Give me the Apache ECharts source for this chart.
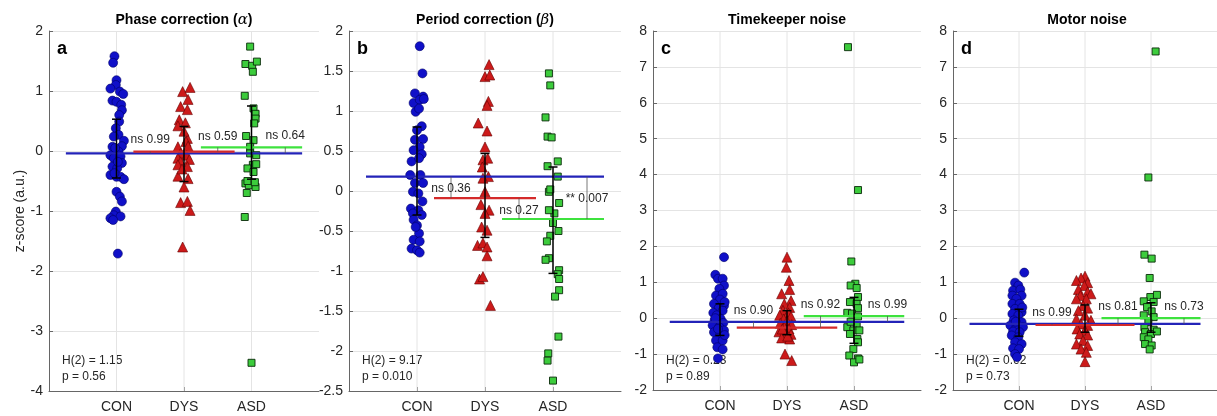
<!DOCTYPE html>
<html>
<head>
<meta charset="utf-8">
<script src="https://cdn.jsdelivr.net/npm/echarts@6/dist/echarts.min.js"></script>
<style>html,body{margin:0;padding:0;background:#fff}#c{width:1217px;height:416px}</style>
</head>
<body>
<div id="c"></div>
<script>
// ---------- data ----------
const categories = ['CON', 'DYS', 'ASD'];
const titleMain = ['Phase correction', 'Period correction', 'Timekeeper noise', 'Motor noise'];
const titleGreek = ['α', 'β', '', ''];
const panelLetters = ['a', 'b', 'c', 'd'];
const yMinList = [-4, -2.5, -2, -2];
const yMaxList = [2, 2, 8, 8];
const yStepList = [1, 0.5, 1, 1];
const yAxisName = 'z-score (a.u.)';

// panel a : phase correction
const conA = [[0.97,1.58],[0.95,1.47],[1.0,1.18],[0.99,1.10],[0.91,1.04],[1.05,0.99],[1.10,0.95],[0.94,0.84],[1.0,0.82],[1.07,0.77],[1.08,0.68],[1.04,0.60],[1.04,0.49],[0.99,0.38],[1.03,0.27],[0.96,0.24],[1.11,0.17],[0.94,0.07],[1.08,0.08],[1.03,-0.01],[0.91,-0.07],[0.96,-0.12],[1.06,-0.09],[1.08,-0.20],[0.94,-0.26],[1.01,-0.29],[0.91,-0.40],[1.0,-0.43],[1.06,-0.43],[1.11,-0.47],[1.0,-0.68],[1.05,-0.76],[1.08,-0.84],[0.99,-1.01],[0.96,-1.07],[0.91,-1.12],[1.06,-1.09],[0.95,-1.15],[1.02,-1.71],[0.98,0.05],[1.02,-0.18],[0.97,-0.37]];
const dysA = [[1.98,0.99],[2.09,1.06],[2.06,0.86],[1.95,0.74],[2.05,0.69],[1.93,0.52],[2.02,0.47],[1.91,0.42],[2.05,0.21],[2.03,0.16],[1.91,0.07],[2.06,0.08],[1.95,-0.04],[2.04,-0.07],[1.91,-0.12],[2.08,-0.14],[1.95,-0.18],[1.91,-0.23],[2.05,-0.26],[1.91,-0.42],[2.06,-0.46],[2.0,-0.60],[1.95,-0.86],[2.05,-0.84],[2.09,-0.99],[1.98,-1.60],[2.0,0.33],[1.97,-0.30]];
const asdA = [[2.98,1.74],[2.91,1.45],[3.01,1.42],[3.08,1.49],[3.02,1.32],[2.90,0.92],[3.03,0.71],[3.06,0.62],[3.06,0.54],[3.04,0.46],[2.92,0.25],[3.03,0.18],[2.98,0.07],[2.98,-0.04],[3.07,-0.07],[3.02,-0.23],[2.94,-0.29],[3.07,-0.22],[3.03,-0.35],[2.91,-0.54],[2.96,-0.57],[3.06,-0.60],[2.93,-0.70],[2.90,-1.10],[3.0,-3.53],[2.94,-0.50],[3.05,-0.52]];
const errA = [[-0.45,0.53],[-0.51,0.41],[-0.47,0.75]];
const levA = [-0.04,-0.01,0.06];
const pLabA = ['ns 0.99','ns 0.59','ns 0.64'];
const labYA = [0.19,0.24,0.25];
const statsA = ['H(2) = 1.15','p = 0.56'];

// panel b : period correction
const conB = [[1.04,1.81],[1.08,1.47],[0.97,1.22],[1.09,1.18],[0.95,1.10],[1.04,1.14],[1.10,1.15],[0.98,0.99],[1.03,1.03],[1.07,0.81],[1.0,0.76],[0.97,0.64],[1.09,0.65],[1.04,0.55],[0.95,0.51],[0.92,0.37],[1.07,0.46],[1.03,0.41],[0.90,0.20],[1.05,0.20],[0.97,0.10],[1.09,0.10],[0.94,-0.01],[1.02,-0.03],[1.08,-0.13],[0.91,-0.22],[1.02,-0.24],[0.94,-0.28],[1.07,-0.30],[0.95,-0.36],[1.0,-0.43],[1.03,-0.53],[0.95,-0.61],[1.04,-0.63],[0.92,-0.72],[1.0,-0.74],[1.04,-0.77],[0.98,-0.45]];
const dysB = [[2.06,1.58],[2.0,1.43],[2.07,1.45],[2.05,1.12],[2.03,1.07],[1.90,0.85],[2.03,0.75],[2.0,0.55],[1.97,0.39],[2.04,0.41],[1.96,0.30],[2.05,0.18],[1.97,0.16],[2.0,-0.01],[1.94,-0.17],[2.06,-0.24],[2.0,-0.28],[1.95,-0.45],[2.03,-0.49],[1.89,-0.68],[1.97,-0.65],[2.03,-0.70],[2.03,-0.81],[1.92,-1.10],[1.97,-1.07],[2.08,-1.43]];
const asdB = [[2.94,1.47],[2.96,1.32],[2.89,0.92],[2.92,0.68],[2.98,0.67],[2.92,0.31],[3.07,0.37],[3.07,0.18],[2.94,-0.01],[2.96,0.02],[3.09,-0.15],[3.02,-0.28],[2.94,-0.24],[3.0,-0.40],[3.08,-0.50],[2.96,-0.56],[2.91,-0.63],[2.94,-0.84],[2.89,-0.86],[3.09,-0.99],[3.07,-1.04],[3.09,-1.10],[3.09,-1.24],[3.03,-1.32],[3.08,-1.82],[2.93,-2.03],[2.92,-2.12],[3.0,-2.37]];
const errB = [[-0.30,0.80],[-0.58,0.47],[-1.03,0.30]];
const levB = [0.18,-0.09,-0.35];
const pLabB = ['ns 0.36','ns 0.27','** 0.007'];
const labYB = [0.03,-0.25,-0.10];
const statsB = ['H(2) = 9.17','p = 0.010'];

// panel c : timekeeper noise
const conC = [[1.06,1.70],[0.93,1.21],[0.97,1.10],[1.04,1.10],[1.06,0.91],[0.99,0.82],[0.94,0.63],[1.04,0.68],[1.0,0.52],[0.91,0.40],[1.06,0.35],[0.98,0.28],[1.04,0.21],[0.90,0.15],[0.95,0.08],[1.01,-0.02],[0.92,-0.06],[1.05,-0.13],[0.89,-0.20],[0.99,-0.25],[1.06,-0.34],[0.91,-0.39],[1.0,-0.48],[0.94,-0.62],[1.04,-0.62],[0.96,-0.81],[1.04,-0.87],[0.97,-1.12],[1.07,0.45],[0.93,0.0],[0.97,-0.30],[1.07,-0.47]];
const dysC = [[2.0,1.70],[1.99,1.42],[2.03,1.05],[2.04,0.80],[1.92,0.68],[2.06,0.49],[1.96,0.40],[2.04,0.30],[1.94,0.22],[2.02,0.15],[1.89,0.08],[2.06,0.05],[1.95,-0.02],[2.0,-0.08],[1.90,-0.14],[2.07,-0.18],[1.96,-0.25],[2.03,-0.30],[1.88,-0.38],[1.98,-0.42],[2.06,-0.45],[1.92,-0.55],[2.04,-0.58],[1.97,-1.0],[2.07,-1.18],[2.01,-0.50],[1.93,-0.30]];
const asdC = [[2.91,7.55],[3.06,3.57],[2.96,1.58],[3.02,0.96],[2.95,0.91],[3.04,0.84],[3.06,0.59],[2.94,0.45],[3.04,0.40],[3.06,0.28],[2.90,0.15],[2.97,0.13],[3.06,0.05],[2.90,-0.25],[3.04,-0.19],[2.99,-0.34],[3.08,-0.34],[2.94,-0.44],[3.05,-0.58],[3.06,-0.67],[2.99,-0.86],[2.93,-1.04],[3.06,-1.12],[3.0,-1.23],[3.08,-1.15],[2.95,-0.10]];
const errC = [[-0.48,0.40],[-0.46,0.21],[-0.70,0.58]];
const levC = [-0.10,-0.26,0.06];
const pLabC = ['ns 0.90','ns 0.92','ns 0.99'];
const labYC = [0.21,0.38,0.38];
const statsC = ['H(2) = 0.23','p = 0.89'];

// panel d : motor noise
const conD = [[1.08,1.27],[0.94,0.99],[0.99,0.91],[0.91,0.77],[1.02,0.80],[0.90,0.63],[1.04,0.63],[0.96,0.54],[0.90,0.40],[1.01,0.40],[0.94,0.26],[1.04,0.17],[0.90,0.12],[0.99,0.08],[0.92,-0.06],[1.04,-0.11],[0.87,-0.20],[0.96,-0.25],[1.06,-0.25],[0.91,-0.37],[1.01,-0.39],[0.89,-0.48],[0.99,-0.53],[0.94,-0.67],[1.04,-0.72],[0.91,-0.84],[1.0,-0.86],[0.94,-1.0],[0.97,-1.08],[1.05,0.30],[0.95,-0.10]];
const dysD = [[2.0,1.17],[1.94,1.12],[1.87,1.05],[2.04,0.99],[1.99,0.91],[1.90,0.80],[2.04,0.73],[1.93,0.63],[2.09,0.68],[1.87,0.54],[2.02,0.54],[1.97,0.35],[2.04,0.28],[1.90,0.21],[2.0,0.08],[1.87,-0.02],[2.09,-0.06],[1.94,-0.16],[2.04,-0.20],[1.88,-0.30],[2.0,-0.34],[1.92,-0.44],[2.04,-0.47],[1.97,-0.62],[1.87,-0.72],[2.04,-0.76],[1.94,-0.86],[2.02,-0.95],[2.0,-1.21]];
const asdD = [[3.07,7.43],[2.96,3.92],[2.90,1.77],[3.01,1.66],[2.98,1.12],[2.99,0.59],[3.09,0.65],[2.89,0.47],[3.04,0.45],[2.94,0.31],[3.01,0.19],[2.89,0.08],[3.04,0.03],[2.96,-0.11],[2.90,-0.25],[3.04,-0.32],[2.91,-0.39],[3.0,-0.44],[3.09,-0.37],[2.89,-0.53],[2.96,-0.59],[2.91,-0.72],[3.01,-0.76],[2.98,-0.87]];
const errD = [[-0.50,0.25],[-0.39,0.37],[-0.39,0.43]];
const levD = [-0.16,-0.19,0.0];
const pLabD = ['ns 0.99','ns 0.81','ns 0.73'];
const labYD = [0.15,0.31,0.31];
const statsD = ['H(2) = 0.62','p = 0.73'];

// ---------- layout & style ----------
const FONT = '"Liberation Sans", Arial, Helvetica, sans-serif';
const TXT = '#262626';
const AXC = '#666666';
const GRIDC = '#e4e4e4';
const gridLeft = [49, 349, 653, 953];
const gridWidth = [270, 272, 268, 268];
const gridTop = 31;
const gridHeight = [360, 360, 359, 359];
const lineSpans = [[0.25, 3.75], [1.25, 2.75], [2.25, 3.75]];
const lineColors = ['#2323b8', '#d42a2a', '#3ee23e'];
const bracketPairs = [[0, 1, 1.5], [1, 2, 2.5], [0, 2, 3.5]];

const panels = [
  {con: conA, dys: dysA, asd: asdA, err: errA, lev: levA, pl: pLabA, ly: labYA, st: statsA},
  {con: conB, dys: dysB, asd: asdB, err: errB, lev: levB, pl: pLabB, ly: labYB, st: statsB},
  {con: conC, dys: dysC, asd: asdC, err: errC, lev: levC, pl: pLabC, ly: labYC, st: statsC},
  {con: conD, dys: dysD, asd: asdD, err: errD, lev: levD, pl: pLabD, ly: labYD, st: statsD}
];

const grids = [], xAxes = [], yAxes = [], series = [], graphics = [];

panels.forEach((p, i) => {
  grids.push({left: gridLeft[i], top: gridTop, width: gridWidth[i], height: gridHeight[i], containLabel: false});
  xAxes.push({
    type: 'value', gridIndex: i, min: 0, max: 4, interval: 1,
    axisLine: {show: true, onZero: false, lineStyle: {color: AXC, width: 1}},
    axisTick: {show: true, inside: true, length: 4, customValues: [1, 2, 3], lineStyle: {color: AXC}},
    axisLabel: {customValues: [1, 2, 3], formatter: v => categories[v - 1] || '', color: TXT, fontSize: 14, fontFamily: FONT, margin: 9},
    splitLine: {show: false}
  });
  yAxes.push({
    type: 'value', gridIndex: i, min: yMinList[i], max: yMaxList[i], interval: yStepList[i],
    name: i === 0 ? yAxisName : '', nameLocation: 'middle', nameGap: 22,
    nameTextStyle: {color: TXT, fontSize: 14, fontFamily: FONT},
    axisLine: {show: true, onZero: false, lineStyle: {color: AXC, width: 1}},
    axisTick: {show: true, inside: true, length: 4, lineStyle: {color: AXC}},
    axisLabel: {color: TXT, fontSize: 14, fontFamily: FONT, margin: 6},
    splitLine: {show: true, lineStyle: {color: GRIDC, width: 1}}
  });

  // vertical grid lines at category positions
  series.push({
    type: 'custom', xAxisIndex: i, yAxisIndex: i, z: 1, silent: true,
    data: [[1, 0], [2, 0], [3, 0]],
    renderItem: (params, api) => {
      const x = api.coord([api.value(0), 0])[0];
      const cs = params.coordSys;
      return {type: 'line', shape: {x1: x, y1: cs.y, x2: x, y2: cs.y + cs.height}, style: {stroke: GRIDC, lineWidth: 1}};
    }
  });

  // scatter points
  series.push({type: 'scatter', xAxisIndex: i, yAxisIndex: i, z: 2, data: p.con, symbol: 'circle', symbolSize: 9,
    itemStyle: {color: '#1010c8', borderColor: '#000066', borderWidth: 0.6, opacity: 1}});
  series.push({type: 'scatter', xAxisIndex: i, yAxisIndex: i, z: 2, data: p.dys, symbol: 'triangle', symbolSize: 10,
    itemStyle: {color: '#cc1a1a', borderColor: '#660000', borderWidth: 0.6, opacity: 1}});
  series.push({type: 'scatter', xAxisIndex: i, yAxisIndex: i, z: 2, data: p.asd, symbol: 'rect', symbolSize: 7,
    itemStyle: {color: '#3ccc3c', borderColor: '#0a2a0a', borderWidth: 0.9, opacity: 1}});

  // group level lines (CON, DYS, ASD)
  series.push({
    type: 'custom', xAxisIndex: i, yAxisIndex: i, z: 3, silent: true,
    data: p.lev.map((v, g) => [lineSpans[g][0], lineSpans[g][1], v]),
    renderItem: (params, api) => {
      const a = api.coord([api.value(0), api.value(2)]);
      const b = api.coord([api.value(1), api.value(2)]);
      return {type: 'line', shape: {x1: a[0], y1: a[1], x2: b[0], y2: b[1]},
        style: {stroke: lineColors[params.dataIndex], lineWidth: 2.2}};
    }
  });

  // comparison brackets
  series.push({
    type: 'custom', xAxisIndex: i, yAxisIndex: i, z: 3, silent: true,
    data: bracketPairs.map(b => [b[2], p.lev[b[0]], p.lev[b[1]]]),
    renderItem: (params, api) => {
      const a = api.coord([api.value(0), api.value(1)]);
      const b = api.coord([api.value(0), api.value(2)]);
      return {type: 'line', shape: {x1: a[0], y1: a[1], x2: b[0], y2: b[1]}, style: {stroke: '#555', lineWidth: 0.8}};
    }
  });

  // error bars
  series.push({
    type: 'custom', xAxisIndex: i, yAxisIndex: i, z: 4, silent: true,
    data: p.err.map((e, g) => [g + 1, e[0], e[1]]),
    renderItem: (params, api) => {
      const lo = api.coord([api.value(0), api.value(1)]);
      const hi = api.coord([api.value(0), api.value(2)]);
      const w = 4.5, st = {stroke: '#000', lineWidth: 1.5};
      return {type: 'group', children: [
        {type: 'line', shape: {x1: lo[0], y1: lo[1], x2: hi[0], y2: hi[1]}, style: st},
        {type: 'line', shape: {x1: lo[0] - w, y1: lo[1], x2: lo[0] + w, y2: lo[1]}, style: st},
        {type: 'line', shape: {x1: hi[0] - w, y1: hi[1], x2: hi[0] + w, y2: hi[1]}, style: st}
      ]};
    }
  });

  // p-value labels
  series.push({
    type: 'custom', xAxisIndex: i, yAxisIndex: i, z: 5, silent: true,
    data: bracketPairs.map((b, k) => [b[2], p.ly[k]]),
    renderItem: (params, api) => {
      const c = api.coord([api.value(0), api.value(1)]);
      return {type: 'text', x: c[0], y: c[1], style: {text: p.pl[params.dataIndex], fill: TXT,
        fontSize: 12, fontFamily: FONT, align: 'center', verticalAlign: 'middle'}};
    }
  });

  // titles
  const cx = gridLeft[i] + gridWidth[i] / 2;
  const tText = titleGreek[i] ? '{b|' + titleMain[i] + ' (}{g|' + titleGreek[i] + '}{b|)}' : '{b|' + titleMain[i] + '}';
  graphics.push({type: 'text', x: cx, y: 20, style: {text: tText, align: 'center', verticalAlign: 'middle',
    rich: {
      b: {fontSize: 14, fontWeight: 'bold', fontFamily: FONT, fill: '#000', color: '#000'},
      g: {fontSize: 15, fontStyle: 'italic', fontFamily: '"DejaVu Serif", serif', fill: '#000', color: '#000'}
    }}});
  // panel letters
  graphics.push({type: 'text', x: gridLeft[i] + 8, y: 49, style: {text: panelLetters[i], fontSize: 18, fontWeight: 'bold',
    fontFamily: FONT, fill: '#000', align: 'left', verticalAlign: 'middle'}});
  // stats
  graphics.push({type: 'text', x: gridLeft[i] + 13, y: gridTop + 330, style: {text: p.st[0], fontSize: 12, fontFamily: FONT,
    fill: TXT, align: 'left', verticalAlign: 'middle'}});
  graphics.push({type: 'text', x: gridLeft[i] + 13, y: gridTop + 346, style: {text: p.st[1], fontSize: 12, fontFamily: FONT,
    fill: TXT, align: 'left', verticalAlign: 'middle'}});
});

const chart = echarts.init(document.getElementById('c'), null, {renderer: 'canvas'});
chart.setOption({
  animation: false,
  backgroundColor: '#ffffff',
  textStyle: {fontFamily: FONT},
  grid: grids, xAxis: xAxes, yAxis: yAxes, series: series, graphic: graphics
});
</script>
</body>
</html>
